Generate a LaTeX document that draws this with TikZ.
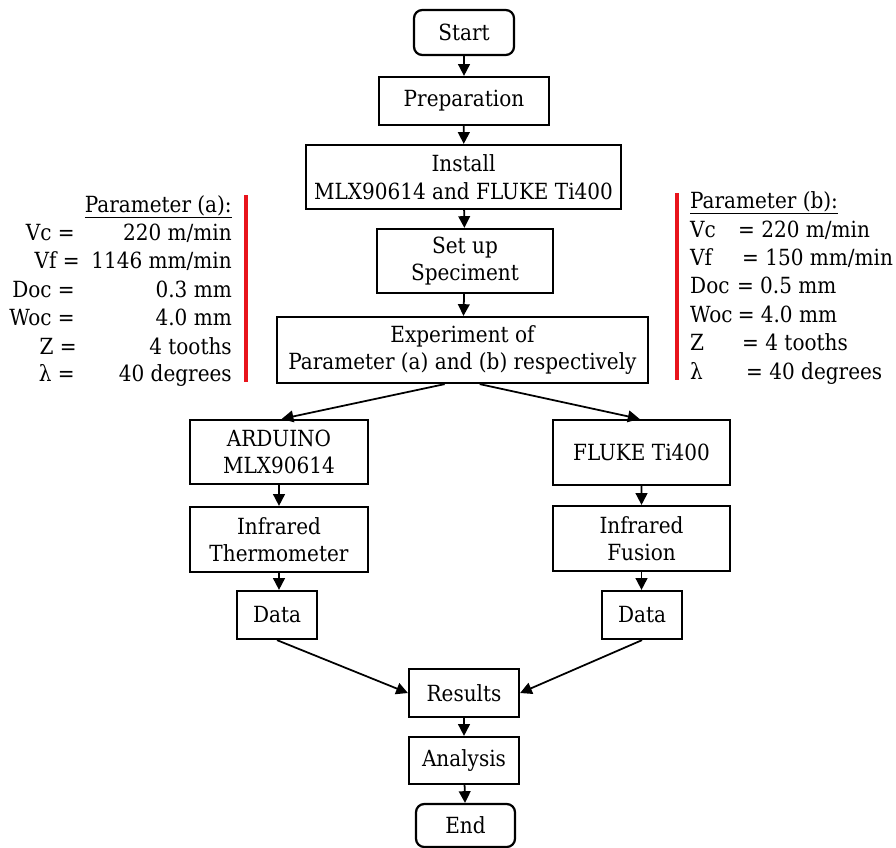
\documentclass[tikz,border=0pt]{standalone}
\usepackage{fontspec}
\setmainfont{DejaVu Serif Condensed}
\usetikzlibrary{arrows.meta}
\definecolor{barred}{RGB}{232,20,28}
\begin{document}
\begin{tikzpicture}[scale=0.3]
\tikzstyle{every node}+=[inner sep=0pt, font=\fontsize{19pt}{23.5pt}\selectfont]
\tikzstyle{box}=[draw, black, line width=1.9pt, align=center, minimum height=1.92cm]
\tikzstyle{term}=[box, rounded corners=0.25cm]
\tikzstyle{arr}=[black, line width=1.5pt, -{Triangle[length=10pt,width=10pt]}]
\tikzstyle{redbar}=[barred, line width=2.8pt]
\useasboundingbox (0,0) rectangle (89.6,-84.8);
\node [term, minimum width=3.0cm, minimum height=1.35cm] (start) at (46.4,-3.25) {Start};
\node [box, minimum width=5.1cm, minimum height=1.44cm] (prep) at (46.4,-10.1) {Preparation};
\node [box, minimum width=9.45cm] (install) at (46.35,-17.7) {Install\\MLX90614 and FLUKE Ti400};
\node [box, minimum width=5.28cm] (setup) at (46.5,-26.1) {Set up\\Speciment};
\node [box, minimum width=11.13cm, minimum height=1.98cm] (expt) at (46.25,-35.0) {Experiment of\\Parameter (a) and (b) respectively};
\node [box, minimum width=5.34cm] (arduino) at (27.9,-45.2) {ARDUINO\\MLX90614};
\node [box, minimum width=5.34cm, minimum height=1.95cm] (thermo) at (27.9,-53.95) {Infrared\\Thermometer};
\node [box, minimum width=2.4cm, minimum height=1.44cm] (dataa) at (27.7,-61.5) {Data};
\node [box, minimum width=5.31cm, minimum height=1.95cm] (fluke) at (64.15,-45.25) {FLUKE Ti400};
\node [box, minimum width=5.31cm, minimum height=1.95cm] (fusion) at (64.15,-53.85) {Infrared\\Fusion};
\node [box, minimum width=2.4cm, minimum height=1.44cm] (datab) at (64.2,-61.5) {Data};
\node [box, minimum width=3.3cm, minimum height=1.44cm] (results) at (46.4,-69.3) {Results};
\node [box, minimum width=3.3cm, minimum height=1.41cm] (analysis) at (46.4,-76.05) {Analysis};
\node [term, minimum width=2.97cm, minimum height=1.29cm] (finish) at (46.55,-82.55) {End};
% flow
\draw [arr] (start) -- (prep);
\draw [arr] (prep) -- (install);
\draw [arr] (install) -- (setup);
\draw [arr] (setup) -- (expt);
\draw [arr] ([xshift=-1.785cm]expt.south) -- ([xshift=0.27cm]arduino.north);
\draw [arr] ([xshift=1.725cm]expt.south) -- ([xshift=-0.195cm]fluke.north);
\draw [arr] (arduino) -- (thermo);
\draw [arr] (thermo.south) -- (thermo.south |- dataa.north);
\draw [arr] (fluke) -- (fusion);
\draw [arr] (fusion.south) -- (fusion.south |- datab.north);
\draw [arr] (dataa.south) -- (results.west);
\draw [arr] (datab.south) -- (results.east);
\draw [arr] (results) -- (analysis);
\draw [arr] (analysis) -- (finish);
% parameter (a)
\node [anchor=base east] (para) at (23.2,-21.2) {\underline{Parameter (a):}};
\node [anchor=base east] (vclab) at (7.5,-24.0) {Vc =};
\node [anchor=base east] (vcval) at (23.2,-24.0) {220 m/min};
\node [anchor=base east] (vflab) at (8.0,-26.85) {Vf =};
\node [anchor=base east] (vfval) at (23.2,-26.85) {1146 mm/min};
\node [anchor=base east] (doclab) at (7.5,-29.7) {Doc =};
\node [anchor=base east] (docval) at (23.2,-29.7) {0.3 mm};
\node [anchor=base east] (woclab) at (7.5,-32.55) {Woc =};
\node [anchor=base east] (wocval) at (23.2,-32.55) {4.0 mm};
\node [anchor=base east] (zlab) at (7.7,-35.4) {Z =};
\node [anchor=base east] (zval) at (23.2,-35.4) {4 tooths};
\node [anchor=base east] (lamlab) at (7.5,-38.1) {λ =};
\node [anchor=base east] (lamval) at (23.2,-38.1) {40 degrees};
\draw [redbar] (24.6,-19.5) -- (24.6,-38.2);
% parameter (b)
\node [anchor=base west] (parb) at (69.0,-20.8) {\underline{Parameter (b):}};
\node [anchor=base west] (vclabb) at (69.0,-23.7) {Vc};
\node [anchor=base west] (vcvalb) at (73.8,-23.7) {= 220 m/min};
\node [anchor=base west] (vflabb) at (69.0,-26.5) {Vf};
\node [anchor=base west] (vfvalb) at (74.2,-26.5) {= 150 mm/min};
\node [anchor=base west] (doclabb) at (69.0,-29.35) {Doc};
\node [anchor=base west, xshift=6pt] (docvalb) at (doclabb.base east) {= 0.5 mm};
\node [anchor=base west] (woclabb) at (69.0,-32.2) {Woc};
\node [anchor=base west, xshift=4pt] (wocvalb) at (woclabb.base east) {= 4.0 mm};
\node [anchor=base west] (zlabb) at (69.0,-35.0) {Z};
\node [anchor=base west] (zvalb) at (74.2,-35.0) {= 4 tooths};
\node [anchor=base west] (lamlabb) at (69.0,-37.9) {λ};
\node [anchor=base west] (lamvalb) at (74.6,-37.9) {= 40 degrees};
\draw [redbar] (67.7,-19.3) -- (67.7,-38.0);
\end{tikzpicture}
\end{document}
